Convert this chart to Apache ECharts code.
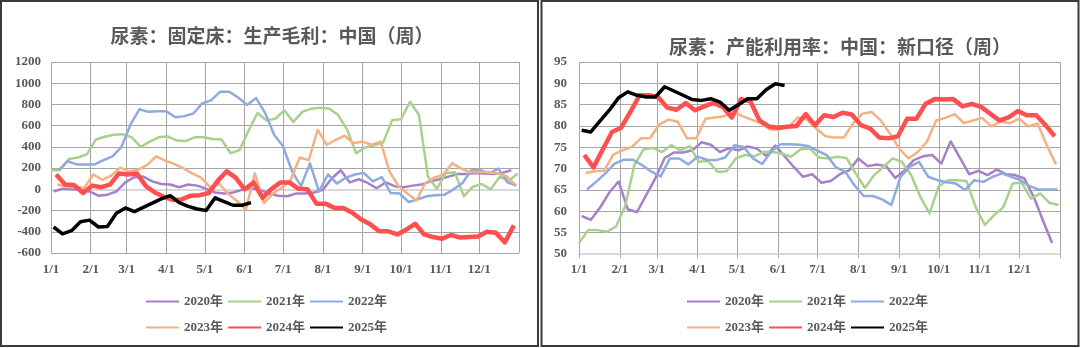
<!DOCTYPE html>
<html>
<head>
<meta charset="utf-8">
<script src="https://cdn.jsdelivr.net/npm/echarts@6/dist/echarts.min.js"></script>
<style>
  html, body { margin: 0; padding: 0; background: #ffffff; }
  #chart { width: 1080px; height: 348px; }
</style>
</head>
<body>
<div id="chart"></div>
<script>
// ---- series names, calendar and tick labels ----
const yearNames = ['2020年', '2021年', '2022年', '2023年', '2024年', '2025年'];
const yearNums = [2020, 2021, 2022, 2023, 2024, 2025];
const monthLabels = ['1/1', '2/1', '3/1', '4/1', '5/1', '6/1', '7/1', '8/1', '9/1', '10/1', '11/1', '12/1'];
const monthDays = [31, 28, 31, 30, 31, 30, 31, 31, 30, 31, 30, 31];

// ---- 尿素 固定床 生产毛利 (weekly, 元/吨) ----
const profit2020 = [-20, 5, 0, -5, -20, -60, -50, -20, 65, 115, 120, 75, 50, 45, 20, 45, 35, 5, -30, -40, -30, -5, 10, -5, -40, -60, -65, -40, -40, -30, -5, 105, 180, 65, 95, 60, 10, 65, 30, 20, 35, 45, 75, 95, 120, 145, 145, 155, 150, 145, 155, 180];
const profit2021 = [180, 180, 285, 300, 330, 470, 495, 515, 520, 490, 400, 450, 490, 500, 460, 455, 490, 490, 475, 470, 340, 370, 550, 720, 650, 665, 745, 635, 730, 760, 770, 760, 700, 560, 340, 395, 415, 440, 650, 660, 825, 700, 120, 5, 155, 160, -65, 25, 50, 0, 120, 80, 150];
const profit2022 = [180, 265, 235, 235, 235, 275, 310, 400, 610, 755, 730, 735, 735, 680, 690, 715, 810, 840, 920, 920, 865, 795, 860, 720, 515, 405, 170, 30, 245, -20, 140, 55, 110, 140, 155, 75, 115, -35, -40, -120, -95, -65, -55, -50, 0, 60, 185, 180, 150, 195, 65, 35];
const profit2023 = [45, 25, 20, 15, 140, 90, 130, 205, 170, 185, 230, 310, 270, 240, 200, 150, 110, 20, 55, -40, -110, -190, 150, -130, -40, 15, 90, 300, 275, 560, 420, 465, 505, 435, 450, 420, 450, 170, 30, -40, -105, 60, 110, 140, 245, 195, 160, 165, 160, 150, 125, 45];
const profit2024 = [140, 45, 40, -35, 35, 20, 45, 150, 140, 150, 30, -30, -70, -100, -95, -60, -55, -35, 80, 170, 110, 0, 65, -80, 5, 65, 65, 5, 0, -135, -135, -175, -175, -220, -285, -330, -395, -395, -425, -380, -325, -425, -450, -465, -430, -455, -450, -445, -400, -410, -500, -340];
const profit2025 = [-355, -420, -390, -305, -290, -355, -350, -225, -175, -210, -170, -130, -90, -60, -125, -160, -185, -200, -80, -115, -150, -150, -125];

// ---- 尿素 产能利用率 新口径 (weekly, %) ----
const util2020 = [58.9, 58.0, 60.9, 64.4, 67.0, 60.5, 59.8, 63.8, 67.8, 72.5, 73.8, 73.8, 74.3, 76.2, 75.6, 73.9, 74.8, 74.3, 75.2, 74.7, 73.0, 75.4, 72.9, 70.4, 68.1, 68.7, 66.7, 67.1, 68.7, 69.6, 72.4, 70.6, 71.0, 70.6, 67.8, 69.6, 72.0, 72.9, 73.2, 71.2, 76.4, 72.6, 68.7, 69.5, 68.5, 69.8, 68.7, 68.5, 67.7, 63.4, 57.9, 52.6];
const util2021 = [52.6, 55.6, 55.6, 55.2, 56.4, 61.2, 70.8, 74.5, 74.9, 73.9, 75.5, 74.3, 75.3, 71.6, 71.8, 69.3, 69.4, 72.4, 73.2, 72.9, 73.9, 73.9, 73.5, 72.8, 74.5, 74.8, 72.6, 72.4, 72.8, 72.5, 68.9, 65.5, 68.5, 70.4, 72.4, 71.6, 68.5, 63.4, 59.5, 65.9, 67.3, 67.3, 67.1, 61.0, 56.8, 59.1, 61.0, 66.5, 66.7, 63.0, 64.2, 62.0, 61.5];
const util2022 = [65.1, 66.9, 68.9, 71.2, 72.1, 72.1, 70.8, 69.3, 68.2, 72.4, 72.4, 71.0, 72.8, 72.1, 72.0, 72.6, 75.5, 75.1, 72.4, 71.1, 74.1, 75.7, 75.7, 75.6, 75.3, 74.2, 73.2, 70.3, 69.3, 66.1, 63.6, 63.6, 62.8, 61.5, 68.1, 70.4, 71.6, 68.1, 67.3, 66.8, 66.5, 65.0, 67.3, 66.9, 68.1, 68.9, 68.1, 67.3, 65.9, 65.1, 65.1, 65.1];
const util2023 = [69.0, 69.4, 69.5, 73.3, 74.3, 75.1, 77.1, 77.2, 80.4, 81.5, 81.0, 77.1, 77.1, 81.7, 82.0, 82.3, 83.3, 82.3, 81.5, 80.6, 79.2, 79.2, 79.8, 82.0, 81.5, 79.4, 77.6, 77.3, 77.3, 80.6, 82.9, 83.3, 81.3, 78.2, 74.7, 72.4, 73.9, 76.3, 81.3, 81.9, 82.8, 80.7, 81.3, 81.9, 79.9, 81.0, 80.7, 81.7, 79.9, 80.6, 75.5, 71.0];
const util2024 = [73.2, 70.3, 74.5, 78.6, 79.6, 83.3, 87.2, 87.2, 86.8, 84.3, 83.8, 85.4, 83.7, 84.6, 85.4, 84.5, 82.0, 86.3, 85.8, 81.3, 79.9, 79.6, 79.8, 80.0, 82.8, 80.2, 82.5, 82.1, 83.1, 82.7, 80.2, 79.4, 77.3, 77.1, 77.6, 81.7, 81.7, 85.2, 86.3, 86.2, 86.3, 84.6, 85.2, 84.5, 82.9, 81.3, 82.0, 83.5, 82.5, 82.5, 80.2, 77.6];
const util2025 = [79.0, 78.6, 81.2, 83.7, 86.6, 88.0, 87.2, 86.8, 86.8, 89.2, 88.2, 87.2, 86.2, 86.0, 86.4, 85.6, 83.7, 85.0, 86.4, 86.4, 88.5, 89.9, 89.5];

const profitData = [profit2020, profit2021, profit2022, profit2023, profit2024, profit2025];
const utilData = [util2020, util2021, util2022, util2023, util2024, util2025];

// ---- styling ----
const lineColors = ['#a680c8', '#a9d18e', '#8faadc', '#f4b183', '#ff4f4f', '#000000'];
const lineWidths = [2.5, 2.5, 2.5, 2.5, 4.5, 3.5];
const textColor = '#595959';
const gridColor = '#a6a6a6';
const labelFont = '"Liberation Serif", "Noto Sans CJK SC", serif';

// Day-of-year categories, one per calendar day plus the closing 1/1
const dayCats = [];
const monthStart = new Set();
monthDays.forEach((n, m) => {
  for (let d = 1; d <= n; d++) {
    if (d === 1) monthStart.add(dayCats.length);
    dayCats.push(d === 1 ? monthLabels[m] : (m + 1) + '/' + d);
  }
});
dayCats.push(monthLabels[0]);
const lastIdx = dayCats.length - 1;

// Weekly observations are taken on Fridays
function firstFriday(y) {
  return (5 - new Date(Date.UTC(y, 0, 1)).getUTCDay() + 7) % 7;
}
function weekly(y, vals) {
  const f = firstFriday(y);
  return vals.map((v, i) => [f + 7 * i, v]);
}

function xAxisFor(gridIndex, margin, axisLine) {
  return {
    type: 'category', gridIndex: gridIndex, data: dayCats, boundaryGap: false,
    axisLine: axisLine,
    axisTick: { show: true, length: 4, interval: (i) => monthStart.has(i) || i === lastIdx,
                lineStyle: { color: gridColor } },
    axisLabel: { interval: (i) => monthStart.has(i), margin: margin, color: textColor,
                 fontFamily: labelFont, fontWeight: 'bold', fontSize: 13 },
    splitLine: { show: true, interval: (i) => monthStart.has(i) || i === lastIdx,
                 lineStyle: { color: gridColor, width: 1 } }
  };
}

function yAxisFor(gridIndex, min, max, step, margin) {
  return {
    type: 'value', gridIndex: gridIndex, min: min, max: max, interval: step,
    axisLine: { show: false }, axisTick: { show: false },
    axisLabel: { margin: margin, color: textColor, fontFamily: labelFont, fontWeight: 'bold', fontSize: 13,
                 formatter: (v) => String(v) },
    splitLine: { show: true, lineStyle: { color: gridColor, width: 1 } }
  };
}

function seriesFor(dataSets, xIdx, yIdx) {
  return dataSets.map((vals, k) => ({
    name: yearNames[k], type: 'line', xAxisIndex: xIdx, yAxisIndex: yIdx,
    data: weekly(yearNums[k], vals),
    symbol: 'none', smooth: false, animation: false,
    lineStyle: { color: lineColors[k], width: lineWidths[k], join: 'round' },
    itemStyle: { color: lineColors[k] },
    z: 2 + k
  }));
}

function legendRow(x, y, names) {
  return {
    left: x, top: y, padding: 0, orient: 'horizontal',
    data: names, itemWidth: 33, itemHeight: 12, itemGap: 4, selectedMode: false,
    itemStyle: { opacity: 0 },
    textStyle: { color: textColor, fontFamily: labelFont, fontWeight: 'bold', fontSize: 13 }
  };
}

const chart = echarts.init(document.getElementById('chart'), null, { renderer: 'canvas' });

const option = {
  backgroundColor: '#ffffff',
  animation: false,
  grid: [
    { left: 51, top: 62, width: 468, height: 191 },
    { left: 579, top: 62, width: 481, height: 192 }
  ],
  xAxis: [
    xAxisFor(0, 10, { show: false }),
    xAxisFor(1, 9, { show: true, lineStyle: { color: '#d9d9d9', width: 2 } })
  ],
  yAxis: [
    yAxisFor(0, -600, 1200, 200, 10),
    yAxisFor(1, 50, 95, 5, 12),
    // horizontal axis line at zero for the profit panel
    {
      type: 'value', gridIndex: 0, min: -600, max: 1200, interval: 600,
      axisLine: { show: false }, axisTick: { show: false }, axisLabel: { show: false },
      splitLine: { show: true, lineStyle: {
        color: ['rgba(0,0,0,0)', '#d9d9d9', 'rgba(0,0,0,0)', 'rgba(0,0,0,0)'], width: 2 } }
    }
  ],
  legend: [
    legendRow(145, 295, yearNames.slice(0, 3)),
    legendRow(145, 321, yearNames.slice(3, 6)),
    legendRow(686, 295, yearNames.slice(0, 3)),
    legendRow(686, 321, yearNames.slice(3, 6))
  ],
  graphic: [
    { type: 'rect', shape: { x: 1, y: 1, width: 537, height: 345 },
      style: { fill: 'none', stroke: '#3a3a3a', lineWidth: 2 }, silent: true },
    { type: 'rect', shape: { x: 541.5, y: 1, width: 537, height: 345 },
      style: { fill: 'none', stroke: '#3a3a3a', lineWidth: 2 }, silent: true },
    { type: 'text', x: 272, y: 36, silent: true,
      style: { text: '尿素：固定床：生产毛利：中国（周）', align: 'center', verticalAlign: 'middle',
               fontSize: 19, fontWeight: 'bold', fontFamily: '"Noto Sans CJK SC"', fill: textColor } },
    { type: 'text', x: 840, y: 47, silent: true, z: 10,
      style: { text: '尿素：产能利用率：中国：新口径（周）', align: 'center', verticalAlign: 'middle',
               fontSize: 19, fontWeight: 'bold', fontFamily: '"Noto Sans CJK SC"', fill: textColor } }
  ],
  series: seriesFor(profitData, 0, 0).concat(seriesFor(utilData, 1, 1))
};

chart.setOption(option);
</script>
</body>
</html>
